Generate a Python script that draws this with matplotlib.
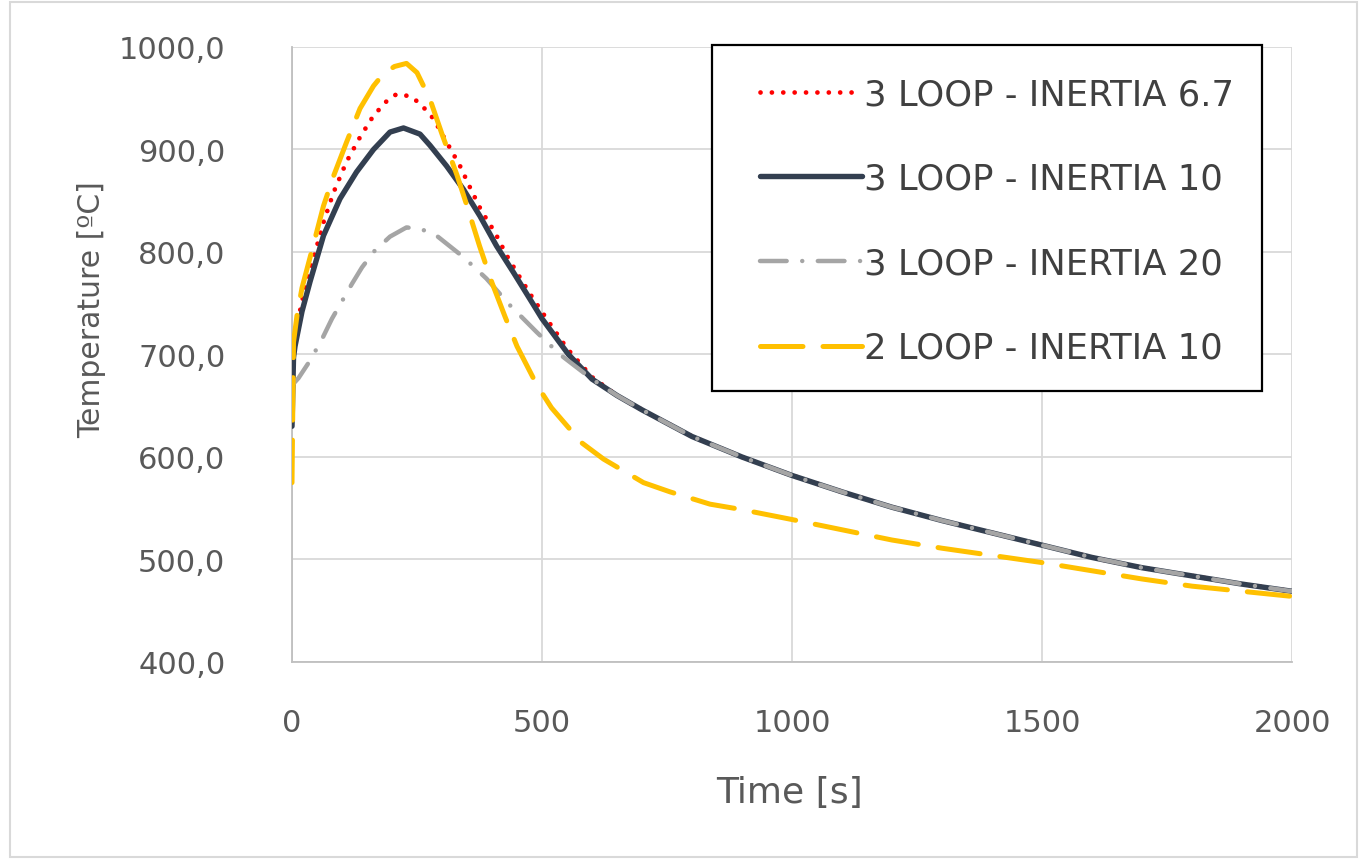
import numpy as np
import matplotlib
matplotlib.use("Agg")
import matplotlib.pyplot as plt
from matplotlib.patches import Rectangle

# ---------------- data ----------------
# common tail shared by the three "3 LOOP" runs (curves coincide after ~600 s)
t_tail_3loop = [650, 700, 800, 900, 1000, 1100, 1200, 1300, 1400, 1500, 1600,
                1700, 1800, 1900, 2000]
temp_tail_3loop = [660, 646, 620, 600, 582, 566, 551, 538, 526, 514, 502, 492,
                   484, 476, 469]

t_inertia_6_7 = [0, 5, 20, 39, 63, 83, 109, 136, 163, 189, 209, 236, 256, 283,
                 336, 356, 379, 406, 429, 456, 479, 509, 550, 600]
temp_inertia_6_7 = [700, 716, 752, 787, 829, 858, 888, 912, 933, 947, 954, 952,
                    945, 930, 884, 863, 840, 819, 797, 775, 757, 735, 706, 678]

t_inertia_10 = [0, 3, 6, 20, 36, 63, 96, 129, 163, 196, 223, 256, 276, 309,
                343, 376, 409, 443, 476, 500, 553, 600]
temp_inertia_10 = [630, 697, 708, 742, 771, 816, 852, 878, 900, 917, 921, 915,
                   904, 884, 861, 835, 806, 780, 754, 735, 700, 676]

t_inertia_20 = [0, 13, 36, 60, 80, 100, 120, 140, 165, 196, 229, 260, 289,
                343, 389, 436, 489, 536, 600]
temp_inertia_20 = [670, 677, 694, 715, 735, 752, 769, 785, 801, 815, 824, 822,
                   816, 795, 774, 748, 722, 700, 676]

t_2loop = [0, 3, 10, 20, 39, 63, 83, 109, 136, 163, 183, 205, 229, 250, 276,
           300, 330, 350, 375, 400, 426, 450, 490, 519, 579, 623, 703, 756,
           836, 896, 1000, 1100, 1200, 1300, 1400, 1500, 1600, 1700, 1800,
           1900, 2000]
temp_2loop = [575, 712, 738, 765, 800, 845, 874, 907, 940, 962, 974, 981, 984,
              975, 949, 915, 875, 845, 806, 770, 737, 708, 670, 648, 614, 598,
              575, 566, 554, 549, 539, 529, 519, 511, 504, 497, 489, 481, 474,
              469, 464]

labels = ["3 LOOP - INERTIA 6.7", "3 LOOP - INERTIA 10",
          "3 LOOP - INERTIA 20", "2 LOOP - INERTIA 10"]
x_ticks = [0, 500, 1000, 1500, 2000]
y_ticks = [400, 500, 600, 700, 800, 900, 1000]
x_label = "Time [s]"
y_label = "Temperature [ºC]"

# ---------------- figure ----------------
W, H = 1363, 862
fig = plt.figure(figsize=(W / 100, H / 100), dpi=100)
fig.patch.set_facecolor("white")


def fx(px):
    return px / W


def fy(py):
    return 1 - py / H


ax = fig.add_axes([fx(292), fy(663), fx(1292) - fx(292), fy(48) - fy(663)])

txt = "#595959"
grid_c = "#D9D9D9"

h1, = ax.plot(t_inertia_6_7 + t_tail_3loop, temp_inertia_6_7 + temp_tail_3loop,
              color="#FF0000", lw=3.4, dashes=(0.01, 2.4),
              dash_capstyle="round", zorder=3)
h2, = ax.plot(t_inertia_10 + t_tail_3loop, temp_inertia_10 + temp_tail_3loop,
              color="#333F50", lw=3.9, solid_capstyle="round",
              solid_joinstyle="round", zorder=4)
h3, = ax.plot(t_inertia_20 + t_tail_3loop, temp_inertia_20 + temp_tail_3loop,
              color="#A5A5A5", lw=3.2, dashes=(6, 3.5, 0.01, 3.5),
              dash_capstyle="round", zorder=5)
h4, = ax.plot(t_2loop, temp_2loop, color="#FFC000", lw=3.6, dashes=(8.5, 4),
              dash_capstyle="round", zorder=6)

ax.set_xlim(0, 2000)
ax.set_ylim(400, 1000)
ax.set_xticks(x_ticks)
ax.set_yticks(y_ticks)
ax.set_yticklabels([f"{v:.1f}".replace(".", ",") for v in y_ticks])
ax.set_xticklabels([str(v) for v in x_ticks])
ax.tick_params(axis="both", length=0, labelsize=22, labelcolor=txt)
ax.tick_params(axis="y", pad=48)
ax.tick_params(axis="x", pad=33)

ax.grid(True, color=grid_c, lw=1.3, zorder=0)
ax.set_axisbelow(True)
for s in ["top", "right"]:
    ax.spines[s].set_visible(False)
for s in ["left", "bottom"]:
    ax.spines[s].set_color("#BFBFBF")
    ax.spines[s].set_linewidth(1.3)

fig.text(fx(92), fy(310), y_label, rotation=90, ha="center", va="center",
         fontsize=21.5, color=txt)
fig.text(fx(790), fy(793), x_label, ha="center", va="center",
         fontsize=26, color=txt)

# legend frame (drawn separately to reproduce the asymmetric padding)
fig.add_artist(Rectangle((fx(712), fy(392)), fx(1262) - fx(712),
                         fy(46) - fy(392), transform=fig.transFigure,
                         facecolor="white", edgecolor="black", lw=1.6,
                         zorder=2))
leg = fig.legend([h1, h2, h3, h4], labels, loc="upper left",
                 bbox_to_anchor=(fx(760), fy(78)),
                 bbox_transform=fig.transFigure, borderaxespad=0,
                 borderpad=0, fontsize=25.5, frameon=False,
                 handlelength=2.88, handletextpad=0.05, labelspacing=1.43)
leg.set_zorder(3)
for t in leg.get_texts():
    t.set_color("#404040")

fig.add_artist(Rectangle((fx(10), fy(858)), fx(1357) - fx(10),
                         fy(3) - fy(858), transform=fig.transFigure,
                         fill=False, edgecolor="#D9D9D9", lw=1.5))

fig.savefig("out.png", dpi=100, facecolor="white")
